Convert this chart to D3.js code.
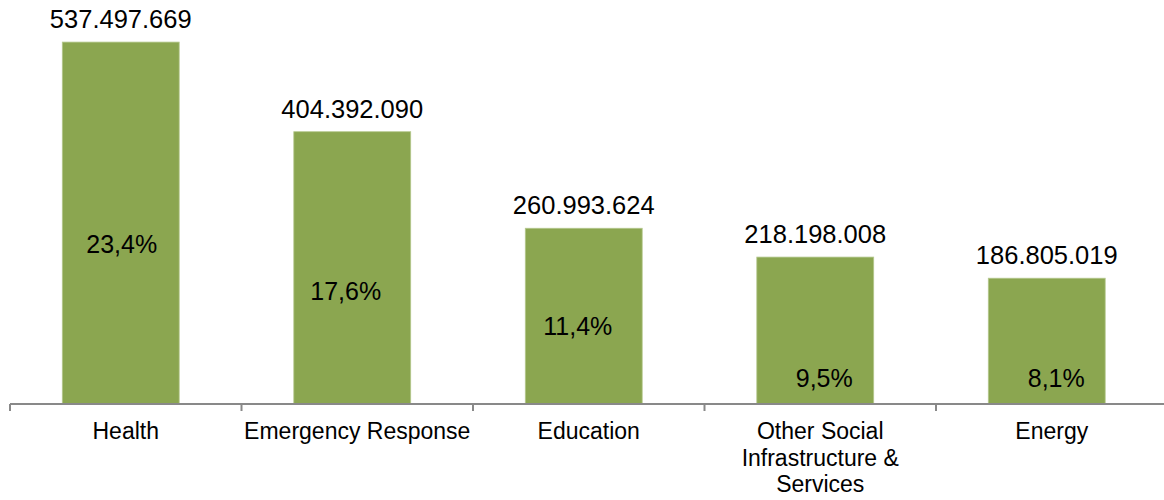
<!DOCTYPE html>
<html>
<head>
<meta charset="utf-8">
<script src="https://cdn.jsdelivr.net/npm/d3@7/dist/d3.min.js"></script>
<style>
  html, body { margin: 0; padding: 0; background: #fff; }
  svg { display: block; font-family: "Liberation Sans", Arial, sans-serif; }
</style>
</head>
<body>
<svg id="chart" width="1164" height="500"></svg>
<script>
// Funding by sector
const categories = ["Health", "Emergency Response", "Education", "Other Social Infrastructure & Services", "Energy"];
const amounts = [537497669, 404392090, 260993624, 218198008, 186805019];
const shareLabels = ["23,4%", "17,6%", "11,4%", "9,5%", "8,1%"];

// Category label line breaks
const categoryLines = [["Health"], ["Emergency Response"], ["Education"], ["Other Social", "Infrastructure &", "Services"], ["Energy"]];

// Placement of the share labels inside each bar: fraction of bar height, horizontal nudge
const shareLabelLift = [0.416, 0.382, 0.392, 0.118, 0.138];
const shareLabelNudge = [1, -6.5, -6, 9, 9.5];

const svg = d3.select("#chart");
const baseY = 404;

const x = d3.scaleBand().domain(categories).range([10, 1167.5]).padding(0);
const y = d3.scaleLinear().domain([0, 600000000]).range([baseY, 0]);

const barW = x.step() * 0.505;
const barShift = -5;
const barX = d => x(d) + x.step() / 2 - barW / 2 + barShift;
const barCenter = d => x(d) + x.step() / 2 + barShift;

const fmt = v => d3.format(",")(v).replace(/,/g, ".");

const data = categories.map((c, i) => ({ c, v: amounts[i], share: shareLabels[i], i }));

// Bars
svg.append("g").selectAll("rect").data(data).join("rect")
  .attr("x", d => barX(d.c))
  .attr("y", d => y(d.v))
  .attr("width", barW)
  .attr("height", d => baseY - y(d.v))
  .attr("fill", "#8BA650")
  .attr("stroke", "#b5c88e")
  .attr("stroke-width", 0.8);

// Axis with ticks between categories
const axisG = svg.append("g");
axisG.append("line")
  .attr("x1", 10).attr("x2", 1164)
  .attr("y1", baseY).attr("y2", baseY)
  .attr("stroke", "#898989").attr("stroke-width", 2);
const tickXs = categories.map(c => x(c));
axisG.selectAll("line.tick").data(tickXs).join("line")
  .attr("class", "tick")
  .attr("x1", d => d).attr("x2", d => d)
  .attr("y1", baseY).attr("y2", baseY + 7)
  .attr("stroke", "#898989").attr("stroke-width", 2);

// Category labels
const catG = svg.append("g").attr("font-size", 23).attr("fill", "#000").attr("text-anchor", "middle");
catG.selectAll("text").data(data).join("text")
  .attr("x", d => x(d.c) + x.step() / 2)
  .attr("y", 439)
  .each(function (d) {
    d3.select(this).selectAll("tspan").data(categoryLines[d.i]).join("tspan")
      .attr("x", x(d.c) + x.step() / 2)
      .attr("dy", (t, k) => k === 0 ? 0 : 26.7)
      .text(t => t);
  });

// Value labels above bars
svg.append("g").attr("font-size", 25.5).attr("fill", "#000").attr("text-anchor", "middle")
  .selectAll("text").data(data).join("text")
  .attr("x", d => barCenter(d.c))
  .attr("y", d => y(d.v) - 14)
  .text(d => fmt(d.v));

// Share labels inside bars
svg.append("g").attr("font-size", 25).attr("fill", "#000").attr("text-anchor", "middle")
  .selectAll("text").data(data).join("text")
  .attr("x", d => barCenter(d.c) + shareLabelNudge[d.i])
  .attr("y", d => y(d.v * shareLabelLift[d.i]))
  .text(d => d.share);
</script>
</body>
</html>
